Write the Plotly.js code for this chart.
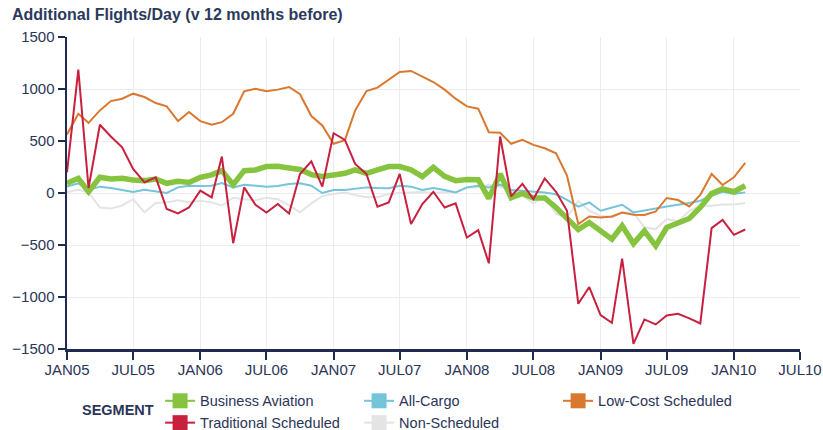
<!DOCTYPE html>
<html>
<head>
<meta charset="utf-8">
<script src="https://cdn.plot.ly/plotly-3.0.1.min.js"></script>
<style>html,body{margin:0;padding:0;background:#fff}#chart{width:823px;height:430px}</style>
</head>
<body>
<div id="chart"></div>
<script>
// Monthly series, JAN05 .. FEB10 (62 months)
var startYear = 2005;
var monthCount = 62;

var businessAviation = [93,141,12,151,135,141,125,119,135,93,112,102,151,174,215,80,215,222,254,257,241,226,177,160,174,189,222,189,222,254,254,222,157,247,160,119,130,128,-52,183,-45,-4,-48,-48,-139,-240,-352,-284,-360,-444,-316,-486,-364,-509,-332,-284,-245,-139,-4,39,12,70];
var allCargo = [61,93,29,61,48,29,10,32,15,0,54,70,68,70,96,54,80,70,61,68,87,93,70,0,29,29,39,54,48,45,70,61,29,48,29,6,54,70,54,80,29,22,10,5,-12,-66,-131,-91,-171,-139,-113,-187,-171,-149,-129,-113,-97,-74,-26,12,-10,6];
var lowCostScheduled = [563,762,675,794,884,907,955,923,865,833,691,778,691,656,681,762,978,1003,978,994,1019,950,740,650,473,508,794,980,1013,1090,1164,1174,1122,1067,994,907,833,811,585,579,473,511,463,430,382,167,-299,-226,-235,-226,-187,-209,-212,-178,-48,-68,-129,-19,183,77,151,290];
var traditionalScheduled = [199,1187,48,656,543,440,231,102,151,-154,-197,-139,22,-42,350,-483,54,-113,-187,-106,-197,183,305,61,575,511,280,183,-132,-91,183,-299,-106,12,-139,-100,-428,-357,-676,543,-33,87,-58,140,12,-171,-1065,-904,-1174,-1248,-631,-1451,-1216,-1264,-1177,-1162,-1206,-1254,-338,-258,-402,-351];
var nonScheduled = [10,30,6,-140,-150,-120,-60,-185,-95,-90,-70,-90,-75,-90,-120,-45,-60,-70,-45,-60,-120,-185,-100,-30,-10,5,-20,-40,-40,-10,0,5,10,0,10,5,50,55,80,60,20,-25,-100,-30,-200,-235,-74,-171,-219,-235,-187,-187,-332,-347,-251,-274,-171,-123,-123,-110,-110,-97];

var tickDates = ['2005-01-01','2005-07-01','2006-01-01','2006-07-01','2007-01-01','2007-07-01','2008-01-01','2008-07-01','2009-01-01','2009-07-01','2010-01-01','2010-07-01'];
var tickLabels = ['JAN05','JUL05','JAN06','JUL06','JAN07','JUL07','JAN08','JUL08','JAN09','JUL09','JAN10','JUL10'];
var yTicks = [-1500,-1000,-500,0,500,1000,1500];

var segmentNames = ['Business Aviation','All-Cargo','Low-Cost Scheduled','Traditional Scheduled','Non-Scheduled'];
var segmentColors = ['#86c440','#74c4da','#d9782f','#c8203f','#e4e4e4'];

var months = [];
for (var i = 0; i < monthCount; i++) {
  var y = startYear + Math.floor(i / 12);
  var m = (i % 12) + 1;
  months.push(y + '-' + (m < 10 ? '0' + m : m) + '-01');
}

var navy = '#1f2b50';
var textCol = '#2b3558';

function line(name, ys, color, width) {
  return {x: months, y: ys, type: 'scatter', mode: 'lines', name: name,
    line: {color: color, width: width}, showlegend: false, hoverinfo: 'skip'};
}

var data = [
  line(segmentNames[4], nonScheduled, segmentColors[4], 2),
  line(segmentNames[1], allCargo, segmentColors[1], 2),
  line(segmentNames[0], businessAviation, segmentColors[0], 5.5),
  line(segmentNames[2], lowCostScheduled, segmentColors[2], 2),
  line(segmentNames[3], traditionalScheduled, segmentColors[3], 2)
];

// legend-only entries (no data)
var legendOrder = [0, 1, 2, 3, 4];
legendOrder.forEach(function (k) {
  data.push({x: [null], y: [null], type: 'scatter', mode: 'lines+markers', name: segmentNames[k],
    line: {color: segmentColors[k], width: 2},
    marker: {symbol: 'square', size: 15, color: segmentColors[k]},
    showlegend: true, hoverinfo: 'skip'});
});

var layout = {
  width: 823, height: 430,
  margin: {l: 67, r: 23, t: 37, b: 81, autoexpand: false},
  paper_bgcolor: '#ffffff', plot_bgcolor: '#ffffff',
  font: {family: 'Liberation Sans, Arial, sans-serif', size: 14, color: textCol},
  showlegend: true,
  title: {text: '<b>Additional Flights/Day (v 12 months before)</b>', x: 0, xref: 'container', xanchor: 'left',
    y: 1, yref: 'container', yanchor: 'top', pad: {t: 9, l: 12},
    font: {size: 16, color: '#2b3a5c', family: 'Liberation Sans, Arial, sans-serif'}},
  xaxis: {
    type: 'date', range: ['2005-01-01', '2010-07-01'],
    tickmode: 'array', tickvals: tickDates, ticktext: tickLabels,
    showgrid: true, gridcolor: '#ececec', gridwidth: 1,
    showline: true, linecolor: navy, linewidth: 2.5,
    ticks: 'outside', ticklen: 8, tickwidth: 2, tickcolor: navy,
    ticklabelstandoff: -3,
    tickfont: {size: 15, color: textCol}, zeroline: false, fixedrange: true
  },
  yaxis: {
    range: [-1500, 1500], tickmode: 'array', tickvals: yTicks,
    showgrid: true, gridcolor: '#ececec', gridwidth: 1,
    showline: true, linecolor: navy, linewidth: 2.5,
    ticks: 'outside', ticklen: 7, tickwidth: 2, tickcolor: navy,
    tickfont: {size: 15, color: textCol}, zeroline: false, fixedrange: true
  },
  legend: {
    orientation: 'h', x: 0.127, xanchor: 'left', y: -0.115, yanchor: 'top',
    entrywidth: 154, entrywidthmode: 'pixels',
    font: {size: 14.5, color: textCol}, bgcolor: 'rgba(0,0,0,0)', itemclick: false, itemdoubleclick: false
  },
  annotations: [{
    text: '<b>SEGMENT</b>', xref: 'paper', yref: 'paper', x: 0.018, y: -0.195,
    xanchor: 'left', yanchor: 'middle', showarrow: false,
    font: {size: 14.5, color: textCol}
  }]
};

Plotly.newPlot('chart', data, layout, {staticPlot: true, displayModeBar: false});
</script>
</body>
</html>
